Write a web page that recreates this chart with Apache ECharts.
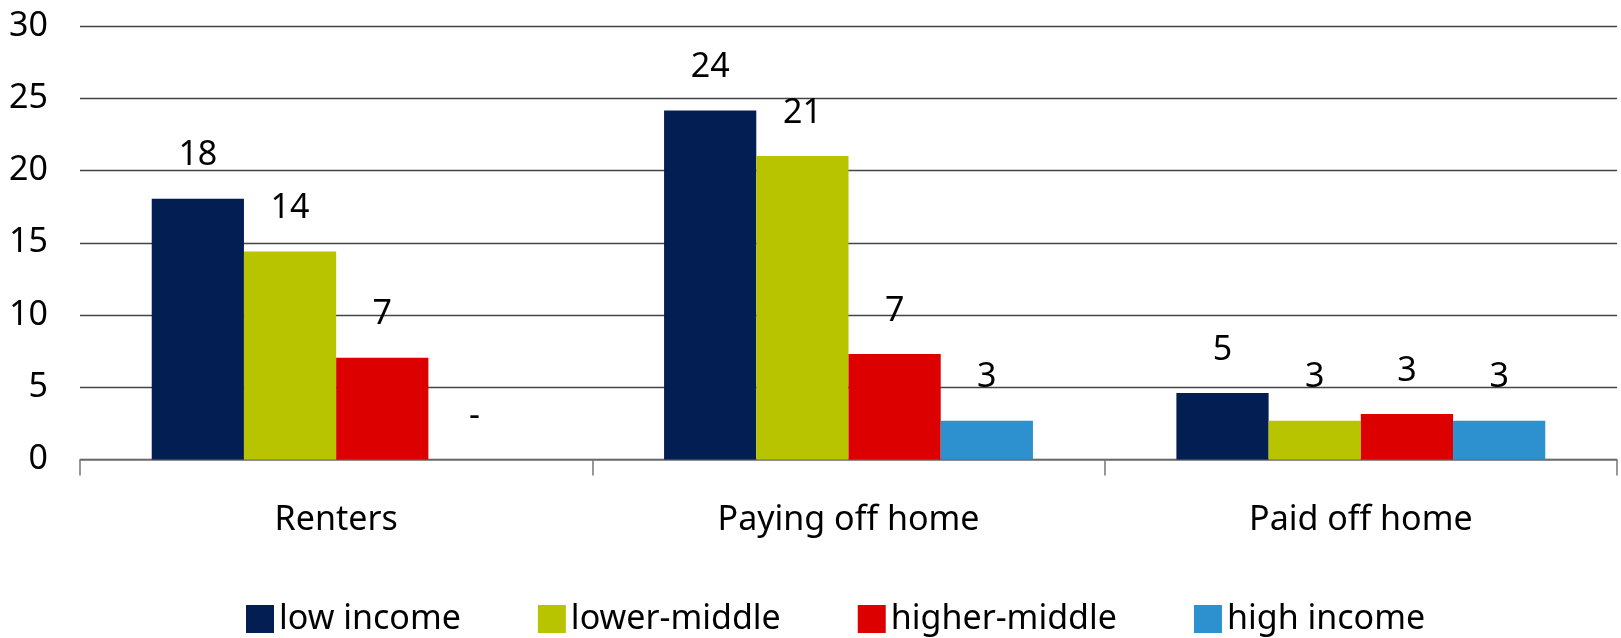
<!DOCTYPE html>
<html>
<head>
<meta charset="utf-8">
<script src="https://cdn.jsdelivr.net/npm/echarts@6/dist/echarts.min.js"></script>
<style>
  html, body { margin: 0; padding: 0; background: #ffffff; }
  #chart { width: 1621px; height: 638px; }
</style>
</head>
<body>
<div id="chart"></div>
<script>
const categories = ['Renters', 'Paying off home', 'Paid off home'];
const seriesNames = ['low income', 'lower-middle', 'higher-middle', 'high income'];
const lowIncome = [18.05, 24.15, 4.6];
const lowerMiddle = [14.4, 21.0, 2.68];
const higherMiddle = [7.05, 7.3, 3.15];
const highIncome = [null, 2.68, 2.68];
const colors = ['#021E52', '#B8C400', '#DC0000', '#2D91CF'];
const yTicks = [0, 5, 10, 15, 20, 25, 30];

const FONT = 'Noto Sans';
const allValues = [lowIncome, lowerMiddle, higherMiddle, highIncome];

const chart = echarts.init(document.getElementById('chart'), null, { renderer: 'canvas' });

chart.setOption({
  animation: false,
  backgroundColor: '#ffffff',
  textStyle: { fontFamily: FONT },
  grid: { left: 80, right: 4, top: 26, bottom: 178.5, containLabel: false },
  legend: {
    data: seriesNames,
    left: 241,
    top: 597,
    itemWidth: 28,
    itemHeight: 28,
    itemGap: 77,
    icon: 'rect',
    textStyle: { fontFamily: FONT, fontSize: 34, color: '#000000' }
  },
  xAxis: {
    type: 'category',
    data: categories,
    axisLine: { show: true, lineStyle: { color: '#777777', width: 1.5 } },
    axisTick: { show: true, length: 16, alignWithLabel: false, lineStyle: { color: '#777777', width: 1.5 } },
    axisLabel: { margin: 44, fontFamily: FONT, fontSize: 34, color: '#000000' },
    splitLine: { show: false }
  },
  yAxis: {
    type: 'value',
    min: yTicks[0],
    max: yTicks[yTicks.length - 1],
    interval: 5,
    axisLine: { show: false },
    axisTick: { show: false },
    axisLabel: { margin: 32, fontFamily: FONT, fontSize: 34, color: '#000000' },
    splitLine: { show: true, lineStyle: { color: '#444444', width: 1.3 } }
  },
  series: seriesNames.map((name, i) => ({
    name: name,
    type: 'bar',
    barGap: '0%',
    barCategoryGap: '28%',
    itemStyle: { color: colors[i] },
    data: allValues[i].map(v => (v === null ? { value: 0, missing: true } : v)),
    label: {
      show: true,
      position: 'top',
      distance: 26,
      fontFamily: FONT,
      fontSize: 34,
      color: '#000000',
      formatter: p => (p.data && p.data.missing ? '-' : String(Math.round(p.value)))
    }
  }))
});
</script>
</body>
</html>
